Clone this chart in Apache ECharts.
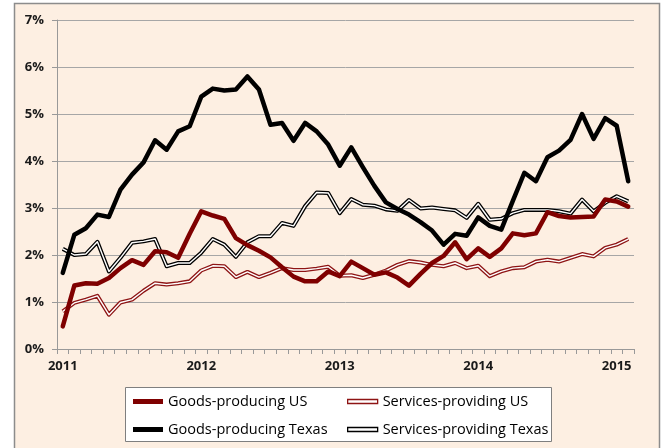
<!DOCTYPE html>
<html>
<head>
<meta charset="utf-8">
<script src="https://cdn.jsdelivr.net/npm/echarts@6/dist/echarts.min.js"></script>
<style>
  html, body { margin: 0; padding: 0; background: #fff; }
  #main { width: 662px; height: 448px; }
</style>
</head>
<body>
<div id="main"></div>
<script>
// months, Jan 2011 .. Feb 2015
var months = [
  '2011-01','2011-02','2011-03','2011-04','2011-05','2011-06','2011-07','2011-08','2011-09','2011-10','2011-11','2011-12',
  '2012-01','2012-02','2012-03','2012-04','2012-05','2012-06','2012-07','2012-08','2012-09','2012-10','2012-11','2012-12',
  '2013-01','2013-02','2013-03','2013-04','2013-05','2013-06','2013-07','2013-08','2013-09','2013-10','2013-11','2013-12',
  '2014-01','2014-02','2014-03','2014-04','2014-05','2014-06','2014-07','2014-08','2014-09','2014-10','2014-11','2014-12',
  '2015-01','2015-02'
];
var yTicks = [0, 1, 2, 3, 4, 5, 6, 7];

var goodsUS = [0.48, 1.35, 1.40, 1.39, 1.51, 1.72, 1.89, 1.79, 2.08, 2.06, 1.94, 2.45,
  2.93, 2.84, 2.77, 2.36, 2.21, 2.09, 1.95, 1.74, 1.54, 1.44, 1.44, 1.65,
  1.55, 1.86, 1.72, 1.58, 1.63, 1.52, 1.35, 1.60, 1.83, 1.98, 2.27, 1.91,
  2.14, 1.96, 2.14, 2.46, 2.42, 2.46, 2.91, 2.83, 2.80, 2.81, 2.82, 3.18,
  3.14, 3.03];
var servicesUS = [0.80, 0.98, 1.05, 1.13, 0.73, 0.99, 1.05, 1.24, 1.40, 1.37, 1.40, 1.44,
  1.67, 1.77, 1.76, 1.53, 1.64, 1.53, 1.62, 1.72, 1.68, 1.68, 1.71, 1.75,
  1.56, 1.57, 1.51, 1.58, 1.67, 1.79, 1.87, 1.84, 1.79, 1.76, 1.83, 1.72,
  1.77, 1.55, 1.65, 1.72, 1.74, 1.86, 1.90, 1.86, 1.94, 2.02, 1.97, 2.15,
  2.22, 2.34];
var goodsTX = [1.62, 2.43, 2.57, 2.86, 2.81, 3.39, 3.71, 3.97, 4.44, 4.24, 4.63, 4.74,
  5.37, 5.54, 5.50, 5.52, 5.80, 5.52, 4.77, 4.81, 4.43, 4.81, 4.63, 4.35,
  3.90, 4.29, 3.87, 3.47, 3.12, 2.98, 2.86, 2.70, 2.52, 2.22, 2.45, 2.41,
  2.80, 2.62, 2.54, 3.15, 3.75, 3.57, 4.08, 4.22, 4.45, 5.00, 4.47, 4.91,
  4.75, 3.57];
var servicesTX = [2.13, 2.00, 2.02, 2.28, 1.65, 1.94, 2.26, 2.29, 2.34, 1.76, 1.83, 1.83,
  2.05, 2.34, 2.22, 1.96, 2.27, 2.40, 2.40, 2.68, 2.62, 3.04, 3.33, 3.32,
  2.89, 3.19, 3.07, 3.05, 2.97, 2.94, 3.17, 2.99, 3.01, 2.98, 2.95, 2.79,
  3.09, 2.75, 2.77, 2.89, 2.96, 2.96, 2.96, 2.93, 2.88, 3.18, 2.93, 3.11,
  3.25, 3.14];

var DARKRED = '#7f0000';
var SERVRED = '#8e1414';
var font = '"Open Sans", "Liberation Sans", sans-serif';

var chart = echarts.init(document.getElementById('main'), null, { renderer: 'canvas' });

// single-line series
function solid(name, data, color) {
  return {
    name: name, type: 'line', data: data, symbol: 'none', z: 4,
    lineStyle: { color: color, width: 4.5, join: 'round', cap: 'round' },
    itemStyle: { color: color }
  };
}
// double line: coloured outer line + white core
function doubleOuter(name, data, color) {
  return {
    name: name, type: 'line', data: data, symbol: 'none', z: 2,
    lineStyle: { color: color, width: 4, join: 'round' },
    itemStyle: { color: color }
  };
}
function doubleInner(data) {
  return {
    name: '_inner', type: 'line', data: data, symbol: 'none', z: 3, silent: true,
    lineStyle: { color: '#ffffff', width: 1.4, join: 'round' }
  };
}

function legendItem(name, left, top, solidColor, outlineColor) {
  return {
    data: [name],
    left: left, top: top,
    padding: 0,
    icon: 'rect',
    itemWidth: 30, itemHeight: solidColor ? 5 : 4,
    itemGap: 0,
    selectedMode: false,
    itemStyle: solidColor ? { color: solidColor, borderWidth: 0 }
                          : { color: '#ffffff', borderColor: outlineColor, borderWidth: 1.3 },
    textStyle: { fontFamily: font, fontSize: 14.5, color: '#000', padding: [0, 0, 0, 0] }
  };
}

var option = {
  backgroundColor: '#ffffff',
  animation: false,
  graphic: [
    { type: 'rect', z: -100, shape: { x: 14.5, y: 3.5, width: 645, height: 470 },
      style: { fill: '#fdefe2', stroke: '#8c8c8c', lineWidth: 1.5 } },
    { type: 'rect', z: 3, shape: { x: 125.5, y: 387.5, width: 426, height: 54 },
      style: { fill: '#ffffff', stroke: '#7f7f7f', lineWidth: 1 } }
  ],
  grid: { left: 57, right: 28, top: 20, bottom: 99, containLabel: false },
  legend: [
    legendItem('Goods-producing US', 133, 394, DARKRED),
    legendItem('Services-providing US', 347, 394, null, SERVRED),
    legendItem('Goods-producing Texas', 133, 422, '#000000'),
    legendItem('Services-providing Texas', 347, 422, null, '#000000')
  ],
  xAxis: {
    type: 'category',
    data: months,
    boundaryGap: true,
    axisLine: { lineStyle: { color: '#999999', width: 1 } },
    axisTick: { show: true, interval: 0, length: 5, lineStyle: { color: '#999999' } },
    axisLabel: {
      interval: function (idx, val) { return val.slice(5) === '01'; },
      formatter: function (val) { return val.slice(0, 4); },
      margin: 11,
      fontFamily: font, fontSize: 13, fontWeight: 'bold', color: '#1a1a1a'
    },
    splitLine: { show: false }
  },
  yAxis: {
    type: 'value',
    min: yTicks[0], max: yTicks[yTicks.length - 1], interval: 1,
    axisLine: { show: true, lineStyle: { color: '#999999', width: 1 } },
    axisTick: { show: true, length: 5, lineStyle: { color: '#999999' } },
    axisLabel: {
      formatter: '{value}%', margin: 13,
      fontFamily: font, fontSize: 13, fontWeight: 'bold', color: '#1a1a1a'
    },
    splitLine: { show: true, lineStyle: { color: '#a6a6a6', width: 1 } }
  },
  series: [
    doubleOuter('Services-providing US', servicesUS, SERVRED),
    doubleInner(servicesUS),
    doubleOuter('Services-providing Texas', servicesTX, '#000000'),
    doubleInner(servicesTX),
    solid('Goods-producing US', goodsUS, DARKRED),
    solid('Goods-producing Texas', goodsTX, '#000000')
  ]
};
chart.setOption(option);
</script>
</body>
</html>
